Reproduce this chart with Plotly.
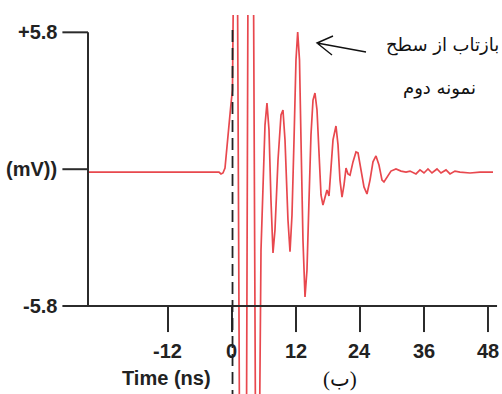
import plotly.graph_objects as go

# ---- data ----
time_ns = [-27.0, -2.44, -2.06, -1.69, -1.31, -0.94, -0.56, -0.19, 0.09, 0.28,
           1.03, 1.41, 2.72, 3.0, 4.03, 4.41, 5.16, 5.44, 5.81, 6.19,
           6.56, 6.94, 7.31, 7.69, 8.06, 8.63, 9.19, 9.56, 9.94, 10.5,
           10.88, 11.25, 11.63, 12.0, 12.32, 12.66, 12.94, 13.31, 13.69, 14.06,
           14.44, 14.81, 15.19, 15.56, 15.94, 16.31, 16.69, 17.06, 17.44, 17.81,
           18.19, 18.56, 18.94, 19.5, 19.88, 20.25, 20.63, 21.0, 21.38, 21.75,
           22.13, 22.69, 23.25, 23.63, 24.19, 24.75, 25.31, 25.88, 26.44, 27.0,
           27.56, 28.13, 28.5, 29.06, 29.81, 30.75, 31.69, 32.63, 33.38, 34.5,
           35.25, 36.0, 36.75, 37.5, 38.44, 39.19, 40.13, 40.88, 41.81, 42.75,
           44.63, 46.5, 48.94]
signal_mv = [-0.12, -0.12, -0.2, -0.16, 0.05, 0.81, 1.87, 2.76, 3.36, 8.0,
             8.0, -11.0, -11.0, 8.0, 8.0, -11.0, -11.0, -3.42, -0.88, 1.87,
             2.80, 1.66, -1.31, -3.55, -2.58, 0.39, 2.30, 2.51, 1.24, -2.15,
             -3.50, -1.95, 1.24, 4.63, 5.81, 4.63, 1.24, -3.0, -5.41, -4.28,
             -1.31, 1.45, 2.93, 3.23, 2.51, 0.60, -1.09, -1.52, -1.13, -0.88,
             -1.13, -0.03, 1.24, 1.83, 1.03, -0.46, -1.18, -0.67, 0.05, -0.20,
             -0.25, 0.31, 0.73, 0.69, -0.03, -0.75, -1.05, -0.46, 0.31, 0.56,
             0.18, -0.46, -0.54, -0.33, -0.08, 0.01, -0.08, -0.12, -0.08, -0.20,
             -0.03, -0.16, 0.01, -0.16, 0.01, -0.16, -0.03, -0.20, -0.08, -0.12,
             -0.16, -0.12, -0.12]

x_ticks = [-12, 0, 12, 24, 36, 48]
x_tick_labels = ["-12", "0", "12", "24", "36", "48"]
y_ticks = [5.8, 0, -5.8]
y_tick_labels = ["+5.8", "(mV))", "-5.8"]
x_title = "Time (ns)"
note_line1 = "بازتاب از سطح"
note_line2 = "نمونه دوم"
panel_label = "(ب)"

# ---- geometry ----
X_RANGE = [-43.5, 50.63]
Y_RANGE = [-9.525, 6.534]
AXIS_X = -27.0          # where the vertical axis sits
AXIS_LEFT = -31.8       # left end of y ticks / x axis line
AXIS_RIGHT = 49.7
TICK_DOWN = -6.9
W, H = 502, 394
AX = dict(color="#2b2b2b", width=2)
FONT_NUM = dict(family="Liberation Sans, Arial, sans-serif", size=20, color="#222222")

fig = go.Figure()
fig.add_trace(go.Scatter(x=time_ns, y=signal_mv, mode="lines",
                         line=dict(color="#e8484e", width=1.7),
                         hoverinfo="skip"))

shapes = []
# y axis
shapes.append(dict(type="line", xref="x", yref="y", x0=AXIS_X, x1=AXIS_X,
                   y0=y_ticks[0], y1=y_ticks[-1], line=AX))
# y ticks
for yv in y_ticks[:-1]:
    shapes.append(dict(type="line", xref="x", yref="y", x0=AXIS_LEFT, x1=AXIS_X,
                       y0=yv, y1=yv, line=AX))
# x axis (includes bottom y tick)
shapes.append(dict(type="line", xref="x", yref="y", x0=AXIS_LEFT, x1=AXIS_RIGHT,
                   y0=y_ticks[-1], y1=y_ticks[-1], line=AX))
for xv in x_ticks:
    shapes.append(dict(type="line", xref="x", yref="y", x0=xv, x1=xv,
                       y0=y_ticks[-1], y1=TICK_DOWN, line=AX))
# dashed line at t = 0
shapes.append(dict(type="line", xref="x", yref="y", x0=0.1, x1=0.1,
                   y0=5.9, y1=Y_RANGE[0], line=dict(color="#222222", width=1.8, dash="12px,6px")))


def px(xp, yp):
    return xp / W, 1 - yp / H


# arrow pointing at the reflection peak
t = px(317, 43); tail = px(366, 52); a1 = px(333, 36); a2 = px(332, 55)
shapes.append(dict(type="path", xref="paper", yref="paper",
                   path=f"M{tail[0]},{tail[1]} L{t[0]},{t[1]} M{a1[0]},{a1[1]} L{t[0]},{t[1]} L{a2[0]},{a2[1]}",
                   line=dict(color="#111111", width=1.4)))

ann = []
for yv, lab in zip(y_ticks, y_tick_labels):
    ann.append(dict(x=-32.4, y=yv, xref="x", yref="y", text=f"<b>{lab}</b>",
                    showarrow=False, xanchor="right", yanchor="middle", font=FONT_NUM))
for xv, lab in zip(x_ticks, x_tick_labels):
    ann.append(dict(x=xv, y=-7.7, xref="x", yref="y", text=f"<b>{lab}</b>",
                    showarrow=False, xanchor="center", yanchor="middle", font=FONT_NUM))
ann.append(dict(x=-12.2, y=-8.85, xref="x", yref="y", text=f"<b>{x_title}</b>",
                showarrow=False, xanchor="center", yanchor="middle", font=FONT_NUM))
p = px(442, 45)
ann.append(dict(x=p[0], y=p[1], xref="paper", yref="paper", text=note_line1, showarrow=False,
                xanchor="center", yanchor="middle",
                font=dict(family="DejaVu Sans, Noto Sans", size=18, color="#111111")))
p = px(439, 88)
ann.append(dict(x=p[0], y=p[1], xref="paper", yref="paper", text=note_line2, showarrow=False,
                xanchor="center", yanchor="middle",
                font=dict(family="DejaVu Sans, Noto Sans", size=18, color="#111111")))
p = px(340, 379)
ann.append(dict(x=p[0], y=p[1], xref="paper", yref="paper", text=panel_label, showarrow=False,
                xanchor="center", yanchor="middle",
                font=dict(family="Liberation Serif, DejaVu Sans", size=21, color="#111111")))

fig.update_layout(
    width=W, height=H, margin=dict(l=0, r=0, t=0, b=0),
    paper_bgcolor="white", plot_bgcolor="white", showlegend=False,
    hovermode=False,
    xaxis=dict(visible=False, range=X_RANGE, domain=[0, 1], fixedrange=True),
    yaxis=dict(visible=False, range=Y_RANGE, domain=[0, 379 / 394], fixedrange=True),
    shapes=shapes, annotations=ann,
)

fig.write_html("out.html", config={"displayModeBar": False, "staticPlot": True},
               post_script="document.body.style.margin='0';")
